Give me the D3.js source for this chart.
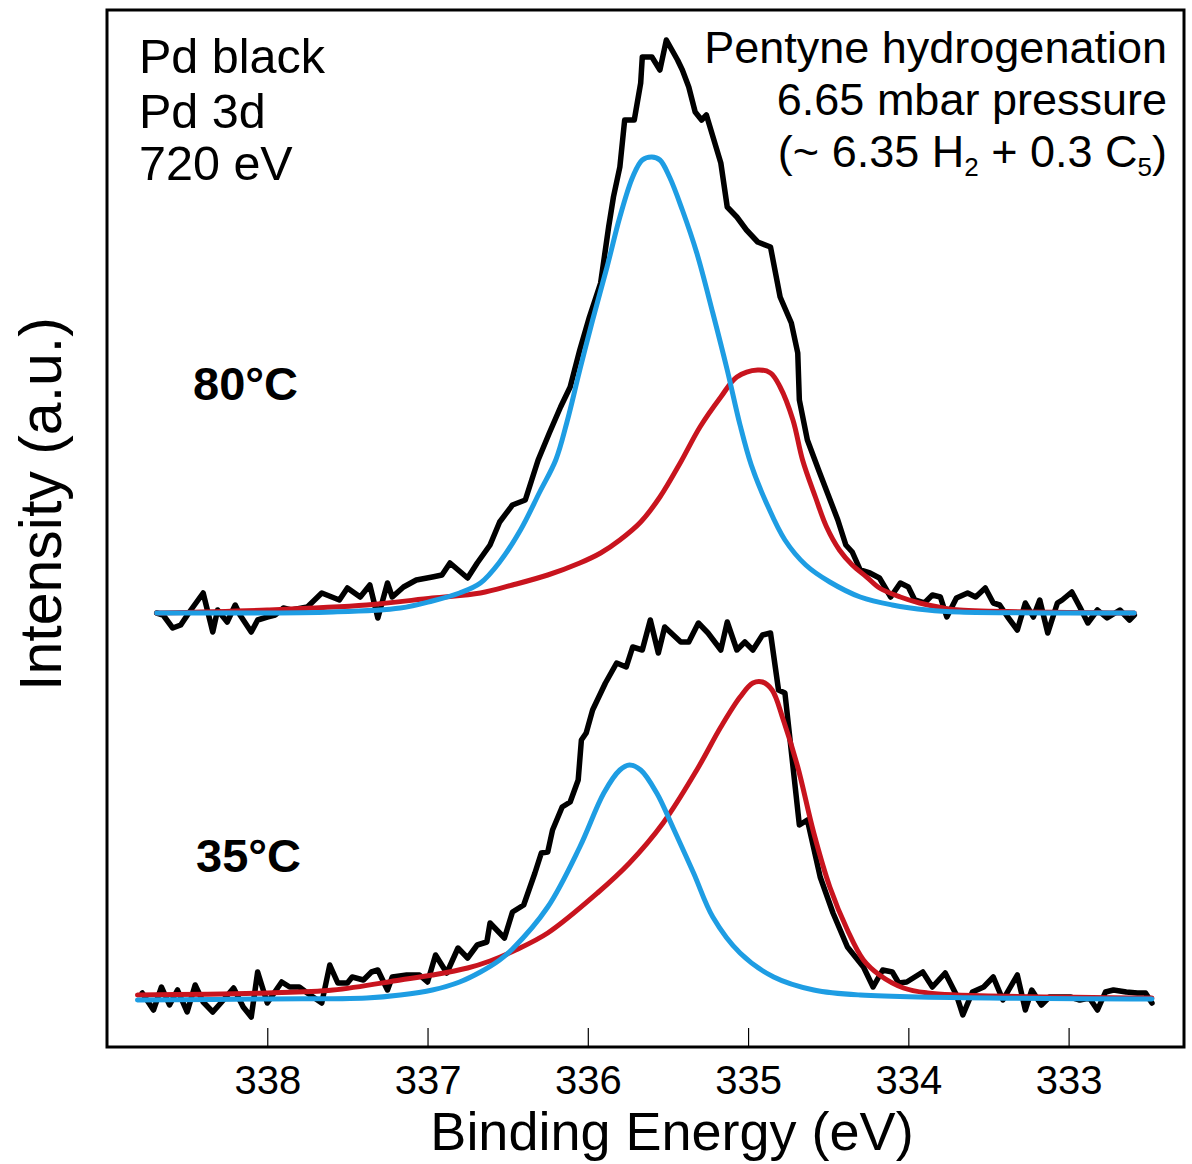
<!DOCTYPE html>
<html>
<head>
<meta charset="utf-8">
<script src="https://cdn.jsdelivr.net/npm/d3@7"></script>
<style>
  body { margin: 0; background: #fff; }
  svg { display: block; font-family: "Liberation Sans", Arial, Helvetica, sans-serif; }
</style>
</head>
<body>
<svg id="chart" width="1192" height="1164"></svg>
<script>
// binding energy (eV), intensity (a.u.)
var spectrum80 = [
  [338.69,434],[338.65,432],[338.59,419],[338.54,422],[338.49,434],[338.40,454],[338.34,415],[338.31,437],
  [338.25,425],[338.20,442],[338.17,432],[338.10,415],[338.06,427],[338.00,430],[337.95,432],[337.90,439],
  [337.85,437],[337.75,440],[337.66,454],[337.55,447],[337.50,459],[337.42,450],[337.36,462],[337.31,429],
  [337.25,464],[337.22,450],[337.15,460],[337.07,467],[336.97,470],[336.91,472],[336.86,484],[336.75,469],
  [336.69,484],[336.61,502],[336.55,525],[336.47,542],[336.39,547],[336.35,567],[336.31,587],[336.24,614],
  [336.17,640],[336.11,660],[336.05,697],[335.99,730],[335.92,764],[335.87,820],[335.84,850],[335.80,880],
  [335.77,927],[335.71,927],[335.67,964],[335.66,990],[335.60,990],[335.55,977],[335.51,1007],[335.44,987],
  [335.41,977],[335.37,960],[335.33,935],[335.29,927],[335.26,932],[335.17,884],[335.13,840],[335.07,830],
  [335.01,817],[334.94,805],[334.86,800],[334.80,750],[334.73,724],[334.69,694],[334.68,647],[334.63,607],
  [334.56,577],[334.50,552],[334.44,527],[334.39,502],[334.35,495],[334.30,477],[334.24,474],[334.18,469],
  [334.11,450],[334.05,464],[334.00,460],[333.96,447],[333.90,444],[333.85,452],[333.80,450],[333.76,430],
  [333.70,449],[333.63,454],[333.58,450],[333.52,459],[333.47,444],[333.43,442],[333.38,430],[333.32,417],
  [333.27,444],[333.22,430],[333.18,447],[333.13,414],[333.07,444],[333.04,447],[332.98,455],[332.93,440],
  [332.88,424],[332.82,437],[332.76,429],[332.68,437],[332.62,427],[332.59,432]
];
var fitA80 = [
  [338.69,434],[337.59,435],[337.17,439],[336.97,446],[336.80,454],[336.67,464],[336.55,485],[336.42,517],
  [336.30,555],[336.20,587],[336.13,625],[336.05,677],[335.97,727],[335.88,780],[335.80,830],[335.72,870],
  [335.66,887],[335.60,890],[335.55,887],[335.49,870],[335.41,837],[335.32,794],[335.22,734],[335.13,677],
  [335.05,622],[334.98,582],[334.88,542],[334.77,507],[334.64,482],[334.49,465],[334.30,450],[334.10,442],
  [333.88,437],[333.68,435],[332.59,434]
];
var fitB80 = [
  [338.69,434],[338.00,437],[337.38,442],[336.97,449],[336.67,454],[336.47,462],[336.25,472],[336.05,484],
  [335.92,494],[335.80,507],[335.67,525],[335.55,550],[335.42,585],[335.30,620],[335.17,650],[335.07,670],
  [334.94,677],[334.86,674],[334.80,660],[334.72,627],[334.66,587],[334.58,550],[334.51,520],[334.43,497],
  [334.35,482],[334.26,470],[334.18,459],[334.05,450],[333.93,444],[333.78,439],[333.68,437],[332.59,434]
];
var spectrum35 = [
  [338.78,54],[338.71,37],[338.66,60],[338.61,42],[338.56,57],[338.50,35],[338.45,62],[338.40,45],
  [338.34,35],[338.29,44],[338.21,59],[338.15,40],[338.10,30],[338.06,75],[338.00,44],[337.91,65],
  [337.86,60],[337.80,60],[337.75,54],[337.66,44],[337.61,82],[337.56,64],[337.50,64],[337.47,70],
  [337.40,67],[337.35,75],[337.31,77],[337.25,57],[337.22,70],[337.13,72],[337.05,72],[337.00,65],
  [336.95,92],[336.88,74],[336.81,99],[336.75,89],[336.69,102],[336.63,105],[336.61,124],[336.52,109],
  [336.47,135],[336.40,142],[336.33,174],[336.29,194],[336.25,195],[336.22,217],[336.16,240],[336.11,245],
  [336.06,267],[336.04,307],[336.01,314],[335.97,337],[335.89,364],[335.82,384],[335.76,380],[335.72,400],
  [335.66,397],[335.61,427],[335.56,394],[335.52,420],[335.42,405],[335.37,405],[335.31,424],[335.25,414],
  [335.17,397],[335.13,425],[335.07,397],[335.02,405],[334.97,397],[334.91,412],[334.86,414],[334.81,357],
  [334.77,354],[334.68,222],[334.63,227],[334.55,170],[334.47,134],[334.38,100],[334.28,80],[334.22,60],
  [334.16,77],[334.10,75],[334.06,64],[334.01,65],[333.91,75],[333.85,60],[333.77,74],[333.70,52],
  [333.66,32],[333.60,55],[333.53,60],[333.47,70],[333.41,47],[333.32,72],[333.27,37],[333.23,57],
  [333.17,42],[333.12,50],[333.05,50],[332.99,50],[332.93,47],[332.87,49],[332.82,37],[332.77,55],
  [332.72,57],[332.64,55],[332.57,54],[332.52,54],[332.48,44]
];
var fitA35 = [
  [338.81,47],[338.00,48],[337.38,49],[337.17,52],[336.97,57],[336.80,65],[336.67,75],[336.55,87],
  [336.47,98],[336.25,140],[336.05,200],[335.90,254],[335.80,277],[335.74,282],[335.67,277],[335.57,254],
  [335.47,220],[335.34,174],[335.22,130],[335.05,94],[334.84,70],[334.59,57],[334.30,52],[332.48,48]
];
var fitB35 = [
  [338.81,52],[338.00,54],[337.59,57],[337.17,67],[336.97,72],[336.75,79],[336.61,86],[336.45,97],
  [336.25,114],[335.94,154],[335.74,184],[335.53,224],[335.32,277],[335.17,320],[335.05,350],[334.97,364],
  [334.91,365],[334.85,357],[334.78,327],[334.69,280],[334.59,214],[334.49,160],[334.38,117],[334.28,87],
  [334.18,72],[334.03,59],[333.88,54],[333.70,52],[332.48,49]
];
var energyTicks = [338, 337, 336, 335, 334, 333];
var notesLeft = ['Pd black', 'Pd 3d', '720 eV'];
var temperatures = [['80°C', 193, 400], ['35°C', 196, 872]];

class XpsChart {
  constructor(id) {
    this.elem = d3.select('#' + id);
    this.left = 107;
    this.top = 10;
    this.right = 1184;
    this.bottom = 1047;
    this.x = d3.scaleLinear().domain([339, 332.28]).range([this.left, this.right]);
    this.y = d3.scaleLinear().domain([0, 1037]).range([this.bottom, this.top]);
  }

  draw() {
    this.drawAxis();
    this.drawTrace(spectrum80, '#000', 5.5, d3.curveLinear);
    this.drawTrace(spectrum35, '#000', 5.5, d3.curveLinear);
    this.drawTrace(fitB80, '#c8141e', 5, d3.curveCatmullRom.alpha(0.5));
    this.drawTrace(fitB35, '#c8141e', 5, d3.curveCatmullRom.alpha(0.5));
    this.drawTrace(fitA80, '#1e9de3', 5, d3.curveCatmullRom.alpha(0.5));
    this.drawTrace(fitA35, '#1e9de3', 5, d3.curveCatmullRom.alpha(0.5));
    this.drawFrame();
    this.drawNotes();
  }

  drawTrace(data, color, width, curve) {
    var line = d3.line()
        .x(d => this.x(d[0]))
        .y(d => this.y(d[1]))
        .curve(curve);
    this.elem.append('path')
        .datum(data)
        .attr('d', line)
        .attr('fill', 'none')
        .attr('stroke', color)
        .attr('stroke-width', width)
        .attr('stroke-linejoin', 'round')
        .attr('stroke-linecap', 'round');
  }

  drawAxis() {
    var axis = d3.axisBottom(this.x)
        .tickValues(energyTicks)
        .tickFormat(d3.format('d'))
        .tickSizeInner(-19)
        .tickSizeOuter(0)
        .tickPadding(19);
    var g = this.elem.append('g')
        .attr('transform', 'translate(0,' + this.bottom + ')')
        .call(axis);
    g.select('.domain').remove();
    g.selectAll('.tick line').attr('stroke', '#000').attr('stroke-width', 1.2);
    g.selectAll('.tick text')
        .attr('fill', '#000')
        .attr('font-size', 40)
        .attr('font-family', '"Liberation Sans", Arial, sans-serif');

    this.elem.append('text')
        .attr('x', 672)
        .attr('y', 1150)
        .attr('text-anchor', 'middle')
        .attr('font-size', 54)
        .text('Binding Energy (eV)');

    this.elem.append('text')
        .attr('transform', 'translate(61,504) rotate(-90)')
        .attr('text-anchor', 'middle')
        .attr('font-size', 59)
        .text('Intensity (a.u.)');
  }

  drawFrame() {
    this.elem.append('rect')
        .attr('x', this.left)
        .attr('y', this.top)
        .attr('width', this.right - this.left)
        .attr('height', this.bottom - this.top)
        .attr('fill', 'none')
        .attr('stroke', '#000')
        .attr('stroke-width', 3);
  }

  drawNotes() {
    notesLeft.forEach((t, i) => {
      this.elem.append('text')
          .attr('x', 139)
          .attr('y', [73, 128, 180][i])
          .attr('font-size', 48.5)
          .text(t);
    });

    var right = this.elem.append('g').attr('text-anchor', 'end').attr('font-size', 45);
    right.append('text').attr('x', 1167).attr('y', 63).text('Pentyne hydrogenation');
    right.append('text').attr('x', 1167).attr('y', 115).text('6.65 mbar pressure');
    var t = right.append('text').attr('x', 1167).attr('y', 167);
    t.append('tspan').text('(~ 6.35 H');
    t.append('tspan').attr('font-size', 26).attr('dy', 9).text('2');
    t.append('tspan').attr('dy', -9).text(' + 0.3 C');
    t.append('tspan').attr('font-size', 26).attr('dy', 9).text('5');
    t.append('tspan').attr('dy', -9).text(')');

    temperatures.forEach(d => {
      this.elem.append('text')
          .attr('x', d[1])
          .attr('y', d[2])
          .attr('font-size', 47)
          .attr('font-weight', 'bold')
          .text(d[0]);
    });
  }
}

new XpsChart('chart').draw();
</script>
</body>
</html>
